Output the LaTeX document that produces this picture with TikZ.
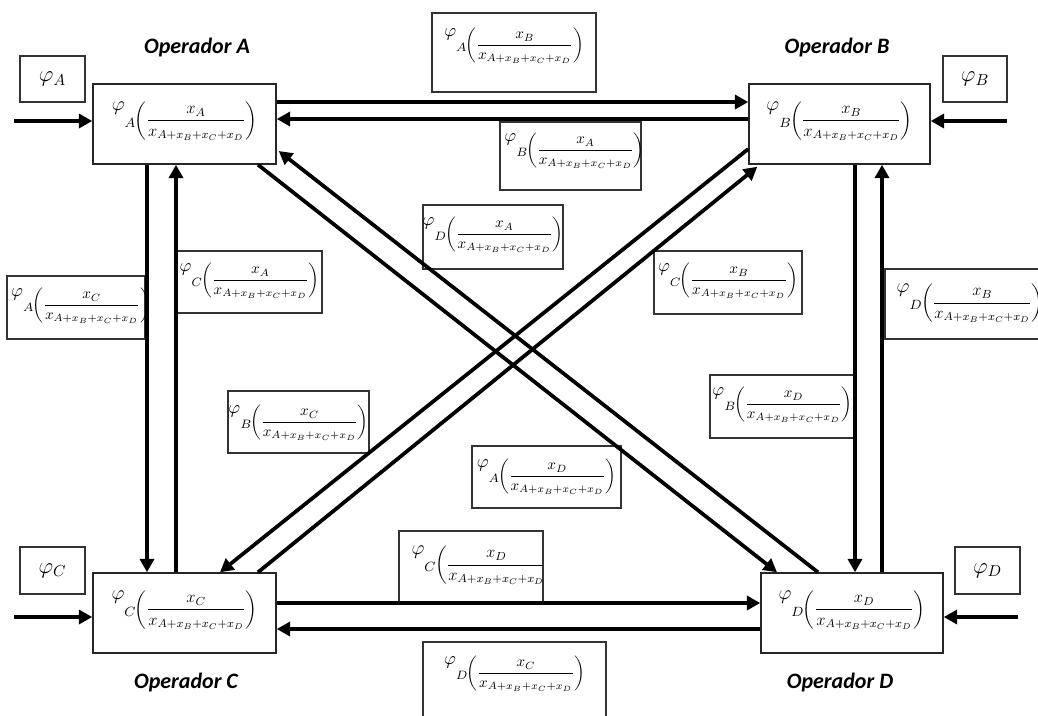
\RequirePackage{fix-cm}
\documentclass[tikz,border=0pt]{standalone}
\usepackage{amsmath}
\usepackage{graphicx}
\usepackage{fontspec}
\newfontfamily\opfont{Carlito}
\usetikzlibrary{arrows.meta,fit,calc}
\newcommand{\frm}[2]{$\raisebox{0.85em}{\scalebox{1.2}{$\varphi$}}\raisebox{-0.15em}{\scalebox{1.15}{$\scriptstyle #1$}}\kern-2.5pt\left(\dfrac{x_{#2}}{x_{A+x_B+x_C+x_D}}\right)$}
\tikzset{
 mainbox/.style={draw=black!85, line width=1.1pt, fill=white, inner sep=0pt},
 lblbox/.style={draw=black!80, line width=0.9pt, fill=white, inner sep=0pt},
 arr/.style={line width=2.8pt, -{Triangle[length=10pt,width=10.5pt]}},
 optext/.style={font=\opfont\bfseries\itshape\fontsize{16.5}{18}\selectfont},
 frmbig/.style={inner sep=0pt, font=\fontsize{12.5}{15}\selectfont},
 frmsmall/.style={inner sep=0pt, font=\fontsize{11.3}{13}\selectfont},
 intext/.style={font=\fontsize{17}{20}\selectfont},
}
\begin{document}
\begin{tikzpicture}[x=0.75pt,y=-0.75pt]
\useasboundingbox (0,0) rectangle (1038,715);
% label boxes
\node[lblbox, fit={(432,13) (596,92)}] (L1) {};
\node[frmsmall, anchor=north] (L1t) at ($(L1.north)+(0,15)$) {\frm{A}{B}};
\node[lblbox, fit={(500,122) (641,190)}] (L2) {};
\node[frmsmall, anchor=north] (L2t) at ($(L2.north)+(4,11)$) {\frm{B}{A}};
\node[lblbox, fit={(423,205) (563,269)}] (L3) {};
\node[frmsmall, anchor=north] (L3t) at ($(L3.north)+(0,12)$) {\frm{D}{A}};
\node[lblbox, fit={(7,276) (145,339)}] (L4) {};
\node[frmsmall, anchor=north] (L4t) at ($(L4.north)+(5,12)$) {\frm{A}{C}};
\node[lblbox, fit={(177,251) (322,313)}] (L5) {};
\node[frmsmall, anchor=north] (L5t) at ($(L5.north)+(0,12)$) {\frm{C}{A}};
\node[lblbox, fit={(654,251) (802,314)}] (L6) {};
\node[frmsmall, anchor=north] (L6t) at ($(L6.north)+(0,12)$) {\frm{C}{B}};
\node[lblbox, fit={(885,269) (1050,339)}] (L7) {};
\node[frmbig, anchor=north west] (L7t) at ($(L7.north west)+(12,15)$) {\frm{D}{B}};
\node[lblbox, fit={(710,375) (855,438)}] (L8) {};
\node[frmsmall, anchor=north] (L8t) at ($(L8.north)+(0,12)$) {\frm{B}{D}};
\node[lblbox, fit={(228,391) (369,453)}] (L9) {};
\node[frmsmall, anchor=north] (L9t) at ($(L9.north)+(0,14)$) {\frm{B}{C}};
\node[lblbox, fit={(472,446) (621,508)}] (L10) {};
\node[frmsmall, anchor=north] (L10t) at ($(L10.north)+(0,13)$) {\frm{A}{D}};
\node[lblbox, fit={(399,531) (543,603)}] (L11) {};
\begin{scope}
\clip ($(L11.south west)+(1,0)$) rectangle ($(L11.north east)+(-1,0)$);
\node[frmbig, anchor=north west] (L11t) at ($(L11.north west)+(13,15)$) {\frm{C}{D}};
\end{scope}
\node[lblbox, fit={(423,642) (606,740)}] (L12) {};
\node[frmsmall, anchor=north] (L12t) at ($(L12.north)+(0,14)$) {\frm{D}{C}};
% main boxes
\node[mainbox, fit={(93,84) (276,164)}] (A) {};
\node[frmbig] (At) at ($(A.center)+(0,-3)$) {\frm{A}{A}};
\node[mainbox, fit={(749,84) (930,164)}] (B) {};
\node[frmbig] (Bt) at ($(B.center)+(0,-3)$) {\frm{B}{B}};
\node[mainbox, fit={(93,573) (276,653)}] (C) {};
\node[frmbig] (Ct) at ($(C.center)+(0,-3)$) {\frm{C}{C}};
\node[mainbox, fit={(761,573) (943,653)}] (D) {};
\node[frmbig] (Dt) at ($(D.center)+(0,-3)$) {\frm{D}{D}};
% operator names
\node[optext] (opA) at (197,48) {Operador A};
\node[optext] (opB) at (837,48) {Operador B};
\node[optext] (opC) at (186,682) {Operador C};
\node[optext] (opD) at (840,682) {Operador D};
% input boxes
\node[lblbox, fit={(20,56) (85,102)}] (iA) {};
\node[intext] (iAt) at (iA.center) {$\varphi_A$};
\node[lblbox, fit={(943,56) (1007,102)}] (iB) {};
\node[intext] (iBt) at (iB.center) {$\varphi_B$};
\node[lblbox, fit={(20,547) (85,594)}] (iC) {};
\node[intext] (iCt) at (iC.center) {$\varphi_C$};
\node[lblbox, fit={(955,547) (1020,594)}] (iD) {};
\node[intext] (iDt) at (iD.center) {$\varphi_D$};
% input arrows
\coordinate (sA) at (14,121);
\coordinate (sB) at (1007,121);
\coordinate (sC) at (14,617);
\coordinate (sD) at (1018,617);
\draw[arr] (sA) -- (sA -| A.west);
\draw[arr] (sB) -- (sB -| B.east);
\draw[arr] (sC) -- (sC -| C.west);
\draw[arr] (sD) -- (sD -| D.east);
% horizontal
\draw[arr] ($(A.east)+(0,-22)$) -- ($(B.west)+(0,-22)$);
\draw[arr] ($(B.west)+(0,-5)$) -- ($(A.east)+(0,-5)$);
\draw[arr] ($(C.east)+(0,-10)$) -- ($(D.west)+(0,-10)$);
\draw[arr] ($(D.west)+(0,16)$) -- ($(C.east)+(0,16)$);
% vertical
\draw[arr] ($(A.south)+(-37.5,0)$) -- ($(C.north)+(-37.5,0)$);
\draw[arr] ($(C.north)+(-8.5,0)$) -- ($(A.south)+(-8.5,0)$);
\draw[arr] ($(B.south)+(15.5,0)$) -- ($(D.north)+(3,0)$);
\draw[arr] ($(D.north)+(30,0)$) -- ($(B.south)+(42.5,0)$);
% diagonals
\draw[arr] ($(A.south)+(73.5,0)$) -- ($(D.north)+(-75,0)$);
\draw[arr] ($(D.north)+(-34,0)$) -- ($(A.east)+(2,27)$);
\draw[arr] ($(B.west)+(0,25)$) -- ($(C.north)+(35.5,0)$);
\draw[arr] ($(C.north)+(73.5,0)$) -- ($(B.south west)+(9,2)$);
\end{tikzpicture}
\end{document}
